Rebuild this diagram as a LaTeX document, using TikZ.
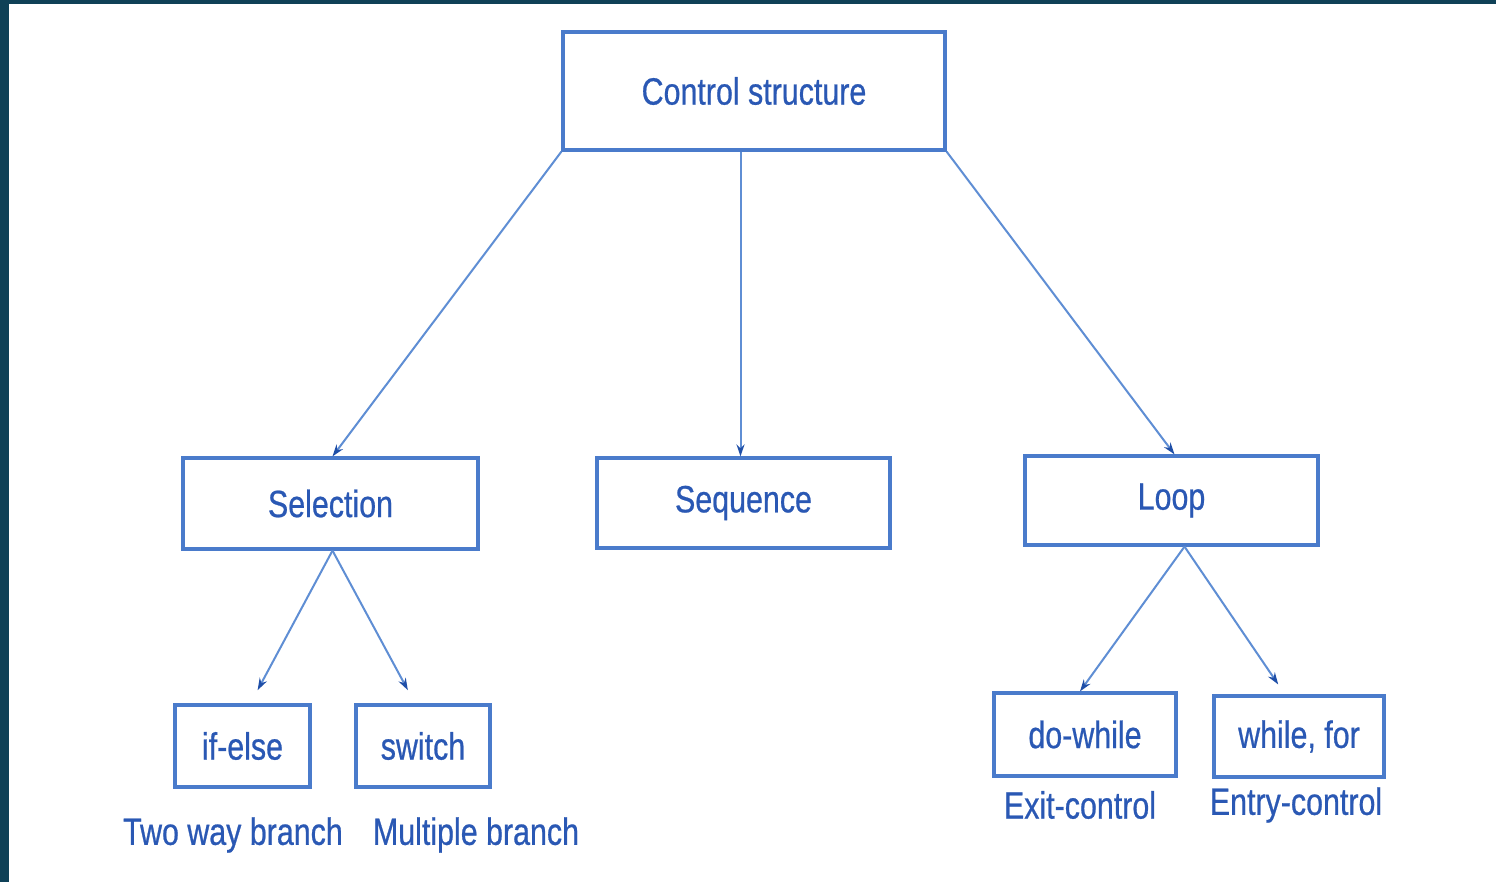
\documentclass[tikz,border=0pt]{standalone}
\usepackage{fontspec}
\setmainfont{Liberation Sans}[FakeStretch=0.8,FakeBold=0.6]
\usetikzlibrary{arrows.meta,calc}
\definecolor{frameteal}{HTML}{0F4157}
\definecolor{boxblue}{HTML}{4A7BCB}
\definecolor{lineblue}{HTML}{5F8ED4}
\definecolor{textblue}{HTML}{2A58B4}
\definecolor{tipblue}{HTML}{1F4FA8}
\begin{document}
\begin{tikzpicture}[x=1pt,y=-1pt,
  box/.style={draw=boxblue,line width=3.2pt,inner sep=0pt,text=textblue,
    font=\fontsize{38}{40}\selectfont},
  caption/.style={inner sep=0pt,text=textblue,font=\fontsize{38}{40}\selectfont},
  link/.style={draw=lineblue,line width=2pt,
    -{Stealth[length=12pt,width=8pt,color=tipblue]}}]
  % page frame: dark edge on top and left
  \fill[frameteal] (0,0) rectangle (1496,882);
  \fill[white] (9,4) rectangle (1496,882);
  \useasboundingbox (0,0) rectangle (1496,882);

  % boxes
  \node[box,minimum width=382pt,minimum height=118pt] (ctrl) at (754,91) {Control structure};
  \node[box,minimum width=295pt,minimum height=91pt] (sel) at (330.5,503.5) {Selection};
  \node[box,minimum width=293pt,minimum height=90pt] (seq) at (743.5,503) {Sequence};
  \node[box,minimum width=293pt,minimum height=89pt] (loop) at (1171.5,500.5) {Loop};
  \node[box,minimum width=135pt,minimum height=82pt] (ifelse) at (242.5,746) {if-else};
  \node[box,minimum width=134pt,minimum height=82pt] (switch) at (423,746) {switch};
  \node[box,minimum width=182pt,minimum height=83pt] (dowhile) at (1085,734.5) {do-while};
  \node[box,minimum width=170pt,minimum height=81pt] (whilefor) at (1299,736.5) {while, for};

  % captions under the leaf boxes
  \node[caption] (twoway) at (233,835) {Two way branch};
  \node[caption] (multi) at (476,835) {Multiple branch};
  \node[caption] (exitc) at (1080,805) {Exit-control};
  \node[caption] (entryc) at (1296,805) {Entry-control};

  % connectors
  \draw[link] (ctrl.south west) -- ($(sel.north)+(2,0)$);
  \draw[link] ($(seq.north |- ctrl.south)+(-3,0)$) -- ($(seq.north)+(-3,0)$);
  \draw[link] (ctrl.south east) -- ($(loop.north)+(3,0)$);
  \draw[link,shorten >=15pt] ($(sel.south)+(2,0)$) -- ($(ifelse.north)+(8,0)$);
  \draw[link,shorten >=15pt] ($(sel.south)+(2,0)$) -- ($(switch.north)+(-8,0)$);
  \draw[link] ($(loop.south)+(13,0)$) -- ($(dowhile.north)+(-5,0)$);
  \draw[link,shorten >=12pt] ($(loop.south)+(13,0)$) -- ($(whilefor.north)+(-14,0)$);
\end{tikzpicture}
\end{document}
